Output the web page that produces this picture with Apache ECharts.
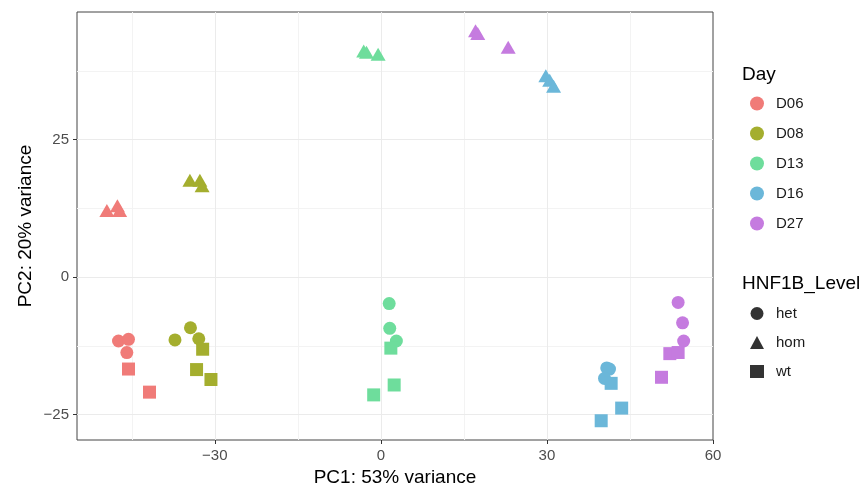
<!DOCTYPE html>
<html>
<head>
<meta charset="utf-8">
<script src="https://cdn.jsdelivr.net/npm/echarts@6/dist/echarts.min.js"></script>
<style>
  html, body { margin: 0; padding: 0; background: #ffffff; }
  #chart { width: 863px; height: 497px; }
</style>
</head>
<body>
<div id="chart"></div>
<script>
// PCA sample scores: [Day, PC1, PC2]
const days = ['D06', 'D08', 'D13', 'D16', 'D27'];
const levels = ['het', 'hom', 'wt'];

const hetPoints = [
  ['D06', -47.4, -11.6], ['D06', -45.6, -11.3], ['D06', -45.9, -13.7],
  ['D08', -37.2, -11.4], ['D08', -34.4, -9.2], ['D08', -32.9, -11.2],
  ['D13', 1.5, -4.8], ['D13', 1.6, -9.3], ['D13', 2.8, -11.6],
  ['D16', 40.8, -16.5], ['D16', 41.3, -16.7], ['D16', 40.4, -18.4],
  ['D27', 53.7, -4.6], ['D27', 54.5, -8.3], ['D27', 54.7, -11.6]
];
const homPoints = [
  ['D06', -49.5, 12.1], ['D06', -47.6, 13.0], ['D06', -47.2, 12.1],
  ['D08', -34.5, 17.6], ['D08', -32.7, 17.6], ['D08', -32.3, 16.6],
  ['D13', -3.1, 41.1], ['D13', -2.6, 40.9], ['D13', -0.5, 40.5],
  ['D16', 29.8, 36.6], ['D16', 30.5, 35.8], ['D16', 31.2, 34.7],
  ['D27', 17.1, 44.8], ['D27', 17.5, 44.3], ['D27', 23.0, 41.8]
];
const wtPoints = [
  ['D06', -45.6, -16.7], ['D06', -41.8, -20.9],
  ['D08', -32.2, -13.1], ['D08', -33.3, -16.8], ['D08', -30.7, -18.6],
  ['D13', 1.8, -12.9], ['D13', 2.4, -19.6], ['D13', -1.3, -21.4],
  ['D16', 41.6, -19.3], ['D16', 43.5, -23.8], ['D16', 39.8, -26.1],
  ['D27', 52.2, -13.9], ['D27', 53.7, -13.7], ['D27', 50.7, -18.2]
];

const xTicks = [-30, 0, 30, 60];
const yTicks = [-25, 0, 25];
const xMinorLines = [-45, -15, 15, 45];
const yMinorLines = [-12.5, 12.5, 37.5];

// Styling
const dayColors = { D06: '#F07B78', D08: '#A4AE2E', D13: '#6EDD9C', D16: '#6BB7D9', D27: '#C57BDF' };
const levelSymbols = { het: 'circle', hom: 'triangle', wt: 'rect' };
const levelSizes = { het: 13, hom: [15, 13], wt: 13 };
const pointsByLevel = { het: hetPoints, hom: homPoints, wt: wtPoints };
const FONT = 'Liberation Sans, Arial, sans-serif';

const fmt = v => (v < 0 ? '\u2212' + Math.abs(v) : String(v));

const series = [];

// Panel grid lines drawn on the axes' scales, beneath the points
const gridLine = color => ({ color: color, width: 1, type: 'solid' });
series.push({
  type: 'scatter',
  data: [],
  z: 0,
  silent: true,
  markLine: {
    z: 0,
    silent: true,
    symbol: 'none',
    label: { show: false },
    emphasis: { disabled: true },
    animation: false,
    data: [
      ...xMinorLines.map(v => ({ xAxis: v, lineStyle: gridLine('#f3f3f3') })),
      ...yMinorLines.map(v => ({ yAxis: v, lineStyle: gridLine('#f3f3f3') })),
      ...xTicks.filter(v => v < 60).map(v => ({ xAxis: v, lineStyle: gridLine('#ebebeb') })),
      ...yTicks.map(v => ({ yAxis: v, lineStyle: gridLine('#ebebeb') }))
    ]
  }
});

levels.forEach(level => {
  days.forEach(day => {
    series.push({
      type: 'scatter',
      name: day,
      symbol: levelSymbols[level],
      symbolSize: levelSizes[level],
      itemStyle: { color: dayColors[day], opacity: 1 },
      z: 3,
      data: pointsByLevel[level].filter(p => p[0] === day).map(p => [p[1], p[2]])
    });
  });
});

// Shape key entries
levels.forEach(level => {
  series.push({
    type: 'scatter',
    name: level,
    symbol: levelSymbols[level],
    symbolSize: levelSizes[level],
    itemStyle: { color: '#000000' },
    data: []
  });
});

const legendText = { fontSize: 15, color: '#1a1a1a', padding: [0, 0, 0, 7], lineHeight: 14, fontFamily: FONT };

const chart = echarts.init(document.getElementById('chart'), null, { renderer: 'canvas' });
chart.setOption({
  animation: false,
  backgroundColor: '#ffffff',
  textStyle: { fontFamily: FONT },
  title: [
    { text: 'Day', left: 742, top: 65, padding: 0, textStyle: { fontSize: 19, fontWeight: 'normal', color: '#000', fontFamily: FONT } },
    { text: 'HNF1B_Level', left: 742, top: 274, padding: 0, textStyle: { fontSize: 19, fontWeight: 'normal', color: '#000', fontFamily: FONT } }
  ],
  legend: [
    {
      data: days,
      orient: 'vertical',
      left: 745,
      top: 91,
      icon: 'circle',
      itemWidth: 14,
      itemHeight: 14,
      itemGap: 15,
      selectedMode: false,
      textStyle: legendText
    },
    {
      data: levels,
      orient: 'vertical',
      left: 745,
      top: 301,
      itemWidth: 14,
      itemHeight: 13,
      itemGap: 14,
      selectedMode: false,
      textStyle: legendText
    }
  ],
  grid: {
    left: 77, right: 150, top: 12, bottom: 57,
    show: true,
    borderColor: '#444444',
    borderWidth: 1,
    backgroundColor: '#ffffff'
  },
  xAxis: {
    type: 'value',
    min: -54.9,
    max: 60,
    name: 'PC1: 53% variance',
    nameLocation: 'middle',
    nameGap: 28,
    nameMoveOverlap: false,
    nameTextStyle: { fontSize: 19, color: '#000', fontFamily: FONT },
    axisLine: { show: false, onZero: false },
    splitLine: { show: false },
    axisTick: { show: true, customValues: xTicks, length: 4, lineStyle: { color: '#333' } },
    axisLabel: { customValues: xTicks, formatter: fmt, fontSize: 15, color: '#4d4d4d', margin: 8, fontFamily: FONT }
  },
  yAxis: {
    type: 'value',
    min: -29.6,
    max: 48.2,
    name: 'PC2: 20% variance',
    nameLocation: 'middle',
    nameGap: 42,
    nameMoveOverlap: false,
    nameRotate: 90,
    nameTextStyle: { fontSize: 19, color: '#000', fontFamily: FONT },
    axisLine: { show: false, onZero: false },
    splitLine: { show: false },
    axisTick: { show: true, customValues: yTicks, length: 4, lineStyle: { color: '#333' } },
    axisLabel: { customValues: yTicks, formatter: fmt, fontSize: 15, color: '#4d4d4d', margin: 8, fontFamily: FONT }
  },
  series: series
});
</script>
</body>
</html>
